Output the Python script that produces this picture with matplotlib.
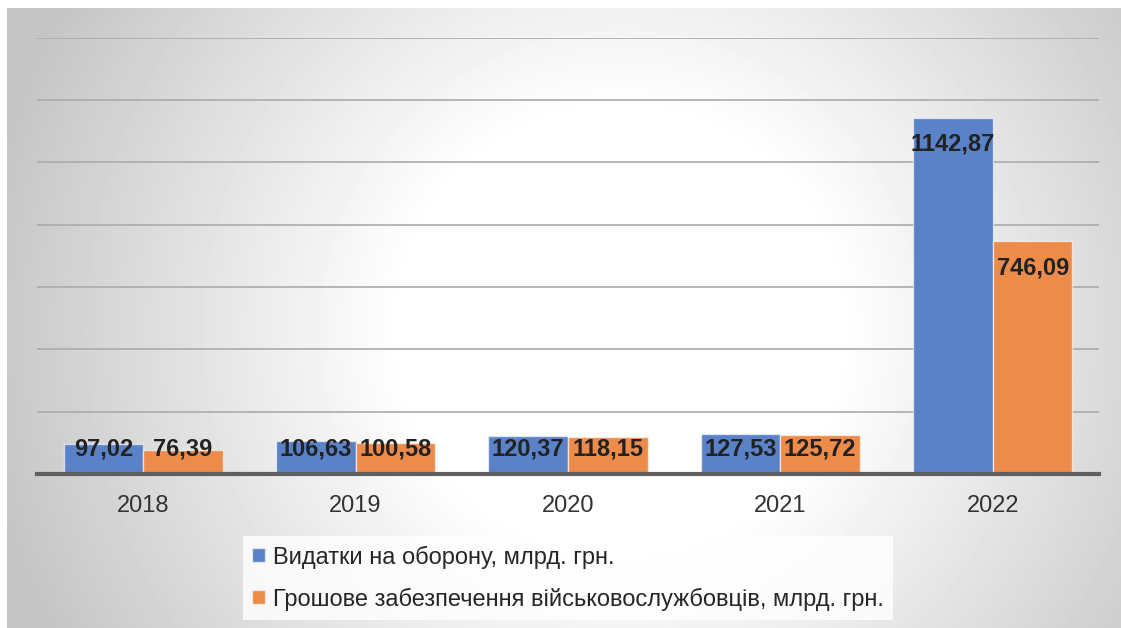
import numpy as np
import matplotlib.pyplot as plt
from matplotlib.patches import Patch

plt.rcParams['font.family'] = ['Liberation Sans', 'DejaVu Sans']

# дані
years = ['2018', '2019', '2020', '2021', '2022']
defense = [97.02, 106.63, 120.37, 127.53, 1142.87]
pay = [76.39, 100.58, 118.15, 125.72, 746.09]
labels = ['Видатки на оборону, млрд. грн.',
          'Грошове забезпечення військовослужбовців, млрд. грн.']

blue = '#5a82c9'
orange = '#ed8b4b'

W, H = 1121, 628
fig = plt.figure(figsize=(W / 100, H / 100), dpi=100)
fig.patch.set_facecolor('white')

# радіальний градієнт фону
bg = fig.add_axes([7 / W, 0, (W - 7) / W, (H - 8) / H], zorder=-10)
yy, xx = np.mgrid[8:H, 7:W]
d = np.sqrt((xx - 620.0) ** 2 + (yy - 330.0) ** 2)
t = np.clip((d - 220) / 430, 0, 1)
shade = 1 - 0.23 * t
bg.imshow(shade, cmap='gray', vmin=0, vmax=1, aspect='auto', interpolation='bilinear')
bg.axis('off')

ax = fig.add_axes([37 / W, 1 - 474 / H, (1099 - 37) / W, (474 - 37.5) / H])
ax.set_facecolor('none')

x = np.arange(len(years))
bw = 0.375
b1 = ax.bar(x - bw / 2, defense, bw, color=blue, edgecolor=(1, 1, 1, 0.6), linewidth=1, zorder=3)
b2 = ax.bar(x + bw / 2, pay, bw, color=orange, edgecolor=(1, 1, 1, 0.6), linewidth=1, zorder=3)

for bars, vals in [(b1, defense), (b2, pay)]:
    for bar, v in zip(bars, vals):
        ty = max(v - 84, 79)
        ax.text(bar.get_x() + bar.get_width() / 2, ty, f'{v:.2f}'.replace('.', ','),
                ha='center', va='center', fontsize=17, fontweight='bold',
                color='#222222', zorder=5)

ax.set_xlim(-0.5, len(years) - 0.5)
ax.set_ylim(0, 1400)
ax.set_yticks(np.arange(200, 1401, 200))
ax.yaxis.grid(True, color='#ababab', linewidth=1.2, zorder=0)
ax.set_yticklabels([])
ax.tick_params(axis='y', length=0)
ax.set_xticks(x)
ax.set_xticklabels(years, fontsize=17, color='#333333')
ax.tick_params(axis='x', length=0, pad=15)
for s in ['top', 'right', 'left']:
    ax.spines[s].set_visible(False)
ax.spines['bottom'].set_color('#5f5f5f')
ax.spines['bottom'].set_linewidth(3)
ax.spines['bottom'].set_zorder(4)

handles = [Patch(facecolor=blue, edgecolor=(1, 1, 1, 0.6)),
           Patch(facecolor=orange, edgecolor=(1, 1, 1, 0.6))]
leg = fig.legend(handles, labels, loc='upper left', bbox_to_anchor=(243 / W, 1 - 536 / H),
                 borderaxespad=0, fontsize=17, handlelength=0.55, handleheight=0.55,
                 handletextpad=0.3, labelspacing=0.8, borderpad=0.4,
                 frameon=True, fancybox=False, labelcolor='#262626')
leg.get_frame().set_facecolor((1, 1, 1, 0.55))
leg.get_frame().set_edgecolor('none')

plt.savefig('out.png', dpi=100)
